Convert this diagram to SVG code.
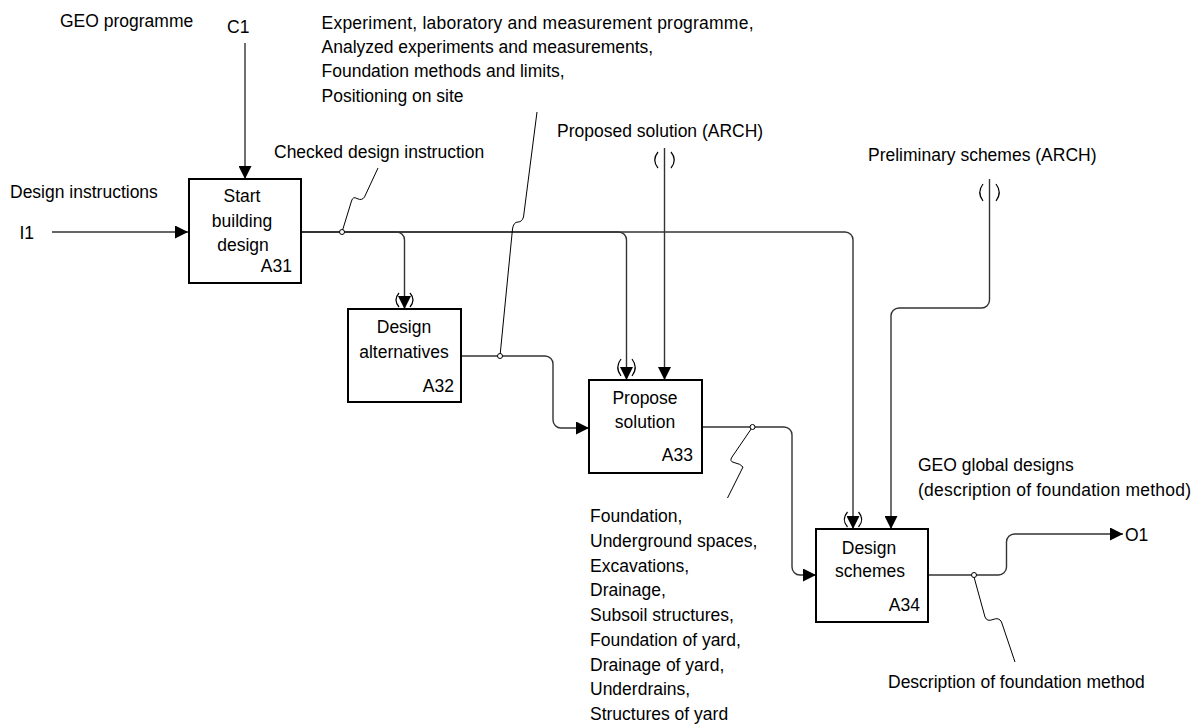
<svg xmlns="http://www.w3.org/2000/svg" width="1202" height="724" viewBox="0 0 1202 724">
  <style>
    text { font-family: "Liberation Sans", Arial, sans-serif; font-size: 17.5px; fill: #000; }
    .mid { text-anchor: middle; }
    .end { text-anchor: end; }
    .box { fill: #fff; stroke: #000; stroke-width: 2; }
    .arrow { fill: none; stroke: #333; stroke-width: 1.4; }
    .squiggle { fill: none; stroke: #000; stroke-width: 1; }
    .tunnel { fill: none; stroke: #000; stroke-width: 1.2; }
    .dot { fill: #fff; stroke: #000; stroke-width: 1; }
  </style>
  <defs>
    <marker id="head" markerUnits="userSpaceOnUse" markerWidth="13" markerHeight="13" refX="13" refY="6.5" orient="auto">
      <path d="M0,0 L13,6.5 L0,13 z" fill="#000"/>
    </marker>
  </defs>

  <rect width="1202" height="724" fill="#fff"/>

  <!-- connectors -->
  <g id="connectors">
    <path class="arrow" d="M245,43 V179" marker-end="url(#head)"/>
    <path class="arrow" d="M52,232 H188" marker-end="url(#head)"/>
    <path class="arrow" d="M301,232 H396.5 A8,8 0 0 1 404.5,240 V309" marker-end="url(#head)"/>
    <path class="arrow" d="M301,232 H618.5 A8,8 0 0 1 626.5,240 V380" marker-end="url(#head)"/>
    <path class="arrow" d="M301,232 H845 A8,8 0 0 1 853,240 V529" marker-end="url(#head)"/>
    <path class="arrow" d="M664.5,148 V380" marker-end="url(#head)"/>
    <path class="arrow" d="M989.5,179 V300 A8,8 0 0 1 981.5,308 H899 A8,8 0 0 0 891,316 V529" marker-end="url(#head)"/>
    <path class="arrow" d="M461,356 H545 A8,8 0 0 1 553,364 V420 A8,8 0 0 0 561,428 H589" marker-end="url(#head)"/>
    <path class="arrow" d="M702,427 H784 A8,8 0 0 1 792,435 V567 A8,8 0 0 0 800,575 H816" marker-end="url(#head)"/>
    <path class="arrow" d="M928,575 H998 A8,8 0 0 0 1006.5,567 V542 A8,8 0 0 1 1014.5,534 H1123" marker-end="url(#head)"/>

    <!-- label leaders -->
    <path class="squiggle" d="M342,232 L351.5,201 Q353,196 357,198.5 Q362,201 364.5,197 L378,168"/>
    <path class="squiggle" d="M500,356 L512.5,229 Q513.5,222 518,222 Q522,222 523.5,217 L537,112"/>
    <path class="squiggle" d="M752.5,427 L732,457 Q729,461.5 734,462.5 Q741,464 743,467 L727.5,498"/>
    <path class="squiggle" d="M974,577 L985,617 Q987,622 993,619.5 Q999,617 1001.5,622 L1015,662"/>

    <!-- branch dots -->
    <circle class="dot" cx="342" cy="232" r="2.5"/>
    <circle class="dot" cx="500" cy="356" r="2.5"/>
    <circle class="dot" cx="752.5" cy="427" r="2.5"/>
    <circle class="dot" cx="974" cy="575" r="2.5"/>

    <!-- tunnel marks -->
    <path class="tunnel" d="M399,293 Q393,300 399,307 M410,293 Q416,300 410,307"/>
    <path class="tunnel" d="M621,359 Q614.5,367.5 621,376 M632,359 Q638.5,367.5 632,376"/>
    <path class="tunnel" d="M847.5,512 Q841,519.5 847.5,527 M858.5,512 Q865,519.5 858.5,527"/>
    <path class="tunnel" d="M658,152 Q651.5,160 658,168 M671,152 Q677.5,160 671,168"/>
    <path class="tunnel" d="M983,184 Q976.5,192.5 983,201 M996,184 Q1002.5,192.5 996,201"/>
  </g>

  <!-- boundary labels -->
  <g id="labels">
    <text x="60" y="27">GEO programme</text>
    <text x="227" y="33">C1</text>
    <text x="10" y="198">Design instructions</text>
    <text x="19.5" y="239">I1</text>
    <text x="274" y="158">Checked design instruction</text>
    <text x="321.5" y="28.5" textLength="432" lengthAdjust="spacing">Experiment, laboratory and measurement programme,</text>
    <text x="321.5" y="53">Analyzed experiments and measurements,</text>
    <text x="321.5" y="77">Foundation methods and limits,</text>
    <text x="321.5" y="101.5">Positioning on site</text>
    <text x="557" y="136.5">Proposed solution (ARCH)</text>
    <text x="868" y="160.5">Preliminary schemes (ARCH)</text>
    <text x="918" y="470.5">GEO global designs</text>
    <text x="918" y="495.5" textLength="273" lengthAdjust="spacing">(description of foundation method)</text>
    <text x="1125" y="540.5">O1</text>
    <text x="888" y="687.5">Description of foundation method</text>
    <text x="590" y="522">Foundation,</text>
    <text x="590" y="546.75">Underground spaces,</text>
    <text x="590" y="571.5">Excavations,</text>
    <text x="590" y="596.25">Drainage,</text>
    <text x="590" y="621">Subsoil structures,</text>
    <text x="590" y="645.75">Foundation of yard,</text>
    <text x="590" y="670.5">Drainage of yard,</text>
    <text x="590" y="695.25">Underdrains,</text>
    <text x="590" y="720">Structures of yard</text>
  </g>

  <!-- activity boxes -->
  <g id="A31">
    <rect class="box" x="189" y="179" width="112" height="104"/>
    <text class="mid" x="242" y="202">Start</text>
    <text class="mid" x="242" y="227">building</text>
    <text class="mid" x="243" y="251">design</text>
    <text class="end" x="292" y="272">A31</text>
  </g>
  <g id="A32">
    <rect class="box" x="348" y="309" width="113" height="93"/>
    <text class="mid" x="404" y="333">Design</text>
    <text class="mid" x="404" y="358">alternatives</text>
    <text class="end" x="454" y="392">A32</text>
  </g>
  <g id="A33">
    <rect class="box" x="589" y="380" width="113" height="93"/>
    <text class="mid" x="645" y="404">Propose</text>
    <text class="mid" x="645" y="428">solution</text>
    <text class="end" x="693" y="461">A33</text>
  </g>
  <g id="A34">
    <rect class="box" x="816" y="529" width="112" height="93"/>
    <text class="mid" x="869" y="553.5">Design</text>
    <text class="mid" x="870" y="577">schemes</text>
    <text class="end" x="920" y="610.5">A34</text>
  </g>
</svg>
